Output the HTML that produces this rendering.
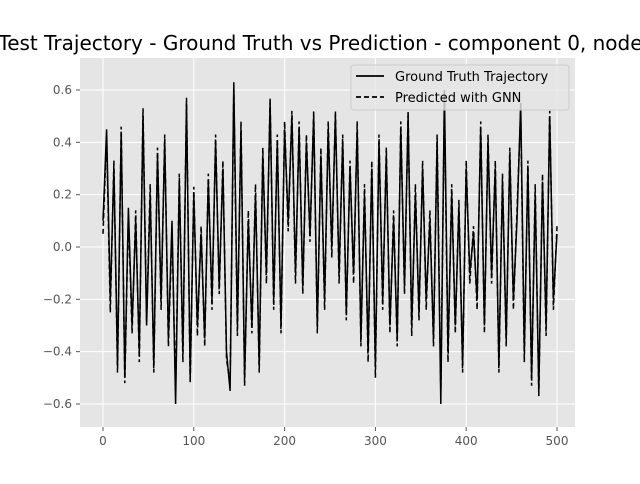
<!DOCTYPE html>
<html><head><meta charset="utf-8"><style>
body{margin:0;background:#fff;width:640px;height:480px;overflow:hidden;font-family:"DejaVu Sans","Liberation Sans",sans-serif}
</style></head><body>
<svg id="chart" width="640" height="480" xmlns="http://www.w3.org/2000/svg" font-family="DejaVu Sans, Liberation Sans, sans-serif">
<rect x="80" y="58" width="495" height="369" fill="#e5e5e5"/>
<g id="grid"></g>
<g id="ticks"></g>
<g id="series"></g>
<text x="330" y="50" font-size="20" text-anchor="middle" fill="#000">Test Trajectory - Ground Truth vs Prediction - component 0, node 0</text>
<g>
<rect x="351" y="65" width="218" height="45" rx="3" fill="#e5e5e5" fill-opacity="0.8" stroke="#cccccc"/>
<line x1="356" y1="76" x2="384" y2="76" stroke="#000" stroke-width="1.8"/>
<text x="395" y="81" font-size="13">Ground Truth Trajectory</text>
<line x1="356" y1="97" x2="384" y2="97" stroke="#000" stroke-width="1.8" stroke-dasharray="5,3"/>
<text x="395" y="102" font-size="13">Predicted with GNN</text>
</g>
</svg>
<script>
const xTicks=[0,100,200,300,400,500];
const yTicks=[-0.6,-0.4,-0.2,0.0,0.2,0.4,0.6];
const yTickLabels=["−0.6","−0.4","−0.2","0.0","0.2","0.4","0.6"];
const step=4;
const groundTruth=[0.1,0.45,-0.2,0.3,-0.45,0.44,-0.5,0.15,-0.3,0.1,-0.4,0.5,-0.3,0.2,-0.45,0.35,-0.2,0.4,-0.35,0.1,-0.6,0.25,-0.4,0.55,-0.5,0.2,-0.3,0.05,-0.35,0.25,-0.2,0.4,-0.15,0.3,-0.4,-0.55,0.63,-0.3,0.45,-0.5,0.1,-0.3,0.2,-0.45,0.35,-0.1,0.55,-0.2,0.4,-0.3,0.45,0.1,0.5,-0.1,0.45,-0.15,0.4,0.05,0.5,-0.3,0.35,-0.2,0.45,0.0,0.5,-0.1,0.4,-0.25,0.3,-0.1,0.45,-0.35,0.2,-0.4,0.3,-0.45,0.4,-0.2,0.35,-0.3,0.1,-0.35,0.45,-0.15,0.5,-0.3,0.2,-0.25,0.3,-0.2,0.1,-0.35,0.4,-0.6,0.6,-0.4,0.2,-0.3,0.15,-0.45,0.3,-0.1,0.05,-0.2,0.45,-0.3,0.4,-0.1,0.3,-0.45,0.25,-0.35,0.35,-0.2,0.1,0.55,-0.4,0.3,-0.5,0.2,-0.55,0.25,-0.3,0.5,-0.2,0.05];
const predicted=[0.05,0.42,-0.25,0.33,-0.48,0.46,-0.52,0.12,-0.33,0.14,-0.44,0.53,-0.28,0.24,-0.48,0.38,-0.24,0.43,-0.38,0.06,-0.55,0.28,-0.44,0.57,-0.52,0.23,-0.34,0.08,-0.38,0.28,-0.24,0.43,-0.18,0.33,-0.43,-0.52,0.6,-0.34,0.48,-0.53,0.14,-0.33,0.24,-0.48,0.38,-0.14,0.57,-0.24,0.43,-0.33,0.48,0.06,0.52,-0.14,0.48,-0.18,0.43,0.02,0.52,-0.33,0.38,-0.24,0.48,-0.04,0.52,-0.14,0.43,-0.28,0.33,-0.14,0.48,-0.38,0.24,-0.44,0.33,-0.5,0.43,-0.24,0.38,-0.33,0.14,-0.38,0.48,-0.18,0.52,-0.34,0.24,-0.28,0.33,-0.24,0.14,-0.38,0.43,-0.55,0.55,-0.44,0.24,-0.33,0.18,-0.48,0.33,-0.14,0.08,-0.24,0.48,-0.33,0.43,-0.14,0.33,-0.48,0.28,-0.38,0.38,-0.24,0.14,0.52,-0.44,0.33,-0.53,0.24,-0.57,0.28,-0.34,0.52,-0.24,0.08];
const NS="http://www.w3.org/2000/svg";
const X=v=>103+v*(557-103)/500;
const Y=v=>247-v*(247-90)/0.6;
function mk(t,a,p){const e=document.createElementNS(NS,t);for(const k in a)e.setAttribute(k,a[k]);p.appendChild(e);return e;}
const grid=document.getElementById('grid'),ticks=document.getElementById('ticks'),series=document.getElementById('series');
xTicks.forEach(v=>{
 const g=mk('line',{x1:X(v),x2:X(v),y1:58,y2:427,stroke:'#fff','stroke-width':1},grid);
 
 
 const t=mk('line',{x1:X(v),x2:X(v),y1:427,y2:431,stroke:'#555'},ticks);
 
 
 const l=mk('text',{x:X(v),y:445,'font-size':12,'text-anchor':'middle',fill:'#555'},ticks);
 l.textContent=v;
 
 
});
yTicks.forEach((v,i)=>{
 const g=mk('line',{x1:80,x2:575,y1:Y(v),y2:Y(v),stroke:'#fff','stroke-width':1},grid);
 
 
 const t=mk('line',{x1:76,x2:80,y1:Y(v),y2:Y(v),stroke:'#555'},ticks);
 
 
 const l=mk('text',{x:72,y:Y(v)+4,'font-size':12,'text-anchor':'end',fill:'#555'},ticks);
 l.textContent=yTickLabels[i];
 
 
});
function pts(arr){return arr.map((v,i)=>X(i*step).toFixed(1)+','+Y(v).toFixed(1)).join(' ');}
const gt=mk('polyline',{points:pts(groundTruth),fill:'none',stroke:'#000','stroke-width':1.5},series);


const pr=mk('polyline',{points:pts(predicted),fill:'none',stroke:'#000','stroke-width':1.5,'stroke-dasharray':'5,3'},series);


</script>
</body></html>
